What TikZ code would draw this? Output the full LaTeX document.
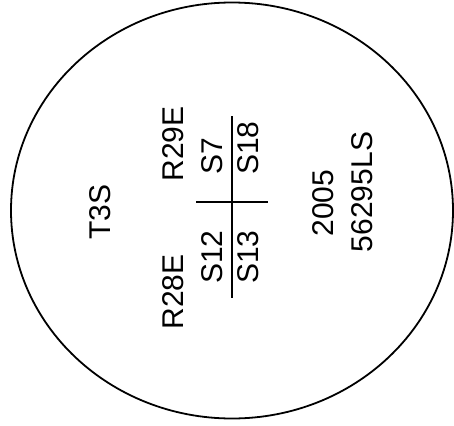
\documentclass[tikz,border=0pt]{standalone}
\usepackage{fontspec}
\setmainfont{Liberation Sans}
\begin{document}
\begin{tikzpicture}[x=1pt,y=-1pt,
  lbl/.style={rotate=90,inner sep=0pt,font=\fontsize{30}{30}\selectfont},
  rule/.style={line width=2.6pt}]
\useasboundingbox (0,0) rectangle (454,425);
\draw[line width=1.8pt] (232,210.5) ellipse [x radius=221, y radius=208];
\node[lbl] (t3s) at (100,212) {T3S};
\node[lbl] (r29e) at (173,144) {R29E};
\node[lbl] (r28e) at (173,292) {R28E};
\node[lbl] (s7) at (212,156) {S7};
\node[lbl] (s12) at (212,257) {S12};
\node[lbl] (s18) at (248,148) {S18};
\node[lbl] (s13) at (248,257) {S13};
\node[lbl] (y2005) at (323,203) {2005};
\node[lbl] (ls) at (362,192) {56295LS};
\coordinate (vt) at (232,116);
\coordinate (vb) at (232,298);
\coordinate (hl) at (196,202);
\coordinate (hr) at (268,202);
\draw[rule] (vt) -- (vb);
\draw[rule] (hl) -- (hr);
\end{tikzpicture}
\end{document}
